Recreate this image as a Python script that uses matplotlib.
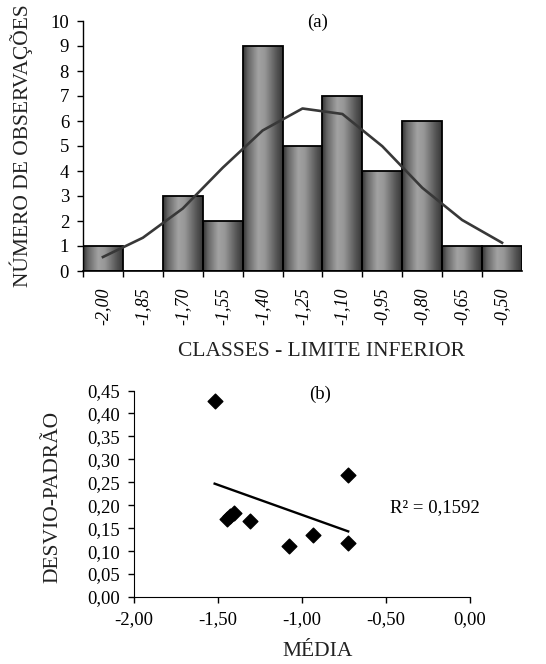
"""
Histogram of class counts with fitted normal curve (a) and
standard deviation vs. mean scatter with linear trend (b).
"""

import matplotlib.pyplot as plt
import numpy as np
from matplotlib.colors import LinearSegmentedColormap
from matplotlib.ticker import FuncFormatter

# (a) histogram
class_labels = ["-2,00", "-1,85", "-1,70", "-1,55", "-1,40", "-1,25",
                "-1,10", "-0,95", "-0,80", "-0,65", "-0,50"]
counts = [1, 0, 3, 2, 9, 5, 7, 4, 6, 1, 1]
normal_curve = [0.56, 1.33, 2.5, 4.13, 5.62, 6.5, 6.28, 4.99, 3.33, 2.04, 1.13]

# (b) scatter
means = [-1.52, -1.444, -1.43, -1.404, -1.307, -1.076, -0.937, -0.725, -0.725]
std_devs = [0.428, 0.171, 0.176, 0.183, 0.165, 0.111, 0.136, 0.265, 0.118]
trend_x = [-1.52, -0.725]
trend_y = [0.247, 0.143]
r_squared = "0,1592"

W, H = 546, 664
FONT = "Liberation Serif"


def comma(fmt):
    return FuncFormatter(lambda v, _: format(v, fmt).replace(".", ","))


def main():
    plt.rcParams["font.family"] = FONT
    fig = plt.figure(figsize=(W / 100, H / 100), dpi=100)

    # ---- (a) ----
    ax = fig.add_axes([83 / W, 1 - 271 / H, (522 - 83) / W, 250 / H])
    shade = LinearSegmentedColormap.from_list(
        "bar",
        [(0, "#353535"), (0.12, "#666666"), (0.38, "#a2a2a2"),
         (0.55, "#979797"), (0.85, "#555555"), (1, "#383838")],
    )
    grad = np.linspace(0, 1, 64).reshape(1, -1)
    x = np.arange(len(counts))
    for xi, h in zip(x, counts):
        if h == 0:
            continue
        ax.imshow(grad, cmap=shade, aspect="auto", interpolation="bilinear",
                  extent=[xi - 0.5, xi + 0.5, 0, h], zorder=1)
    ax.bar(x, counts, width=1.0, facecolor="none", edgecolor="black",
           linewidth=1.3, zorder=2)
    ax.plot(x, normal_curve, color="#383838", linewidth=1.9, zorder=3)

    ax.set_xlim(-0.5, len(counts) - 0.5)
    ax.set_ylim(0, 10)
    ax.set_yticks(range(0, 11))
    ax.set_xticks(x)
    ax.set_xticklabels(class_labels, rotation=90, fontstyle="italic", fontsize=13)
    ax.set_xticks(x - 0.5, minor=True)
    ax.tick_params(axis="x", which="major", length=0, pad=12)
    ax.tick_params(axis="x", which="minor", length=4.5, width=1, direction="out")
    ax.tick_params(axis="y", length=4, width=1, pad=6, labelsize=13.5)
    for side in ("top", "right"):
        ax.spines[side].set_visible(False)
    ax.spines["left"].set_linewidth(1)
    ax.spines["bottom"].set_linewidth(1.2)

    fig.text(318 / W, 1 - 22 / H, "(a)", ha="center", va="center", fontsize=13.5)
    fig.text(21 / W, 1 - 146 / H, "NÚMERO DE OBSERVAÇÕES", rotation=90,
             ha="center", va="center", fontsize=15.5, color="#222222")
    fig.text(322 / W, 1 - 352 / H, "CLASSES - LIMITE INFERIOR",
             ha="center", va="center", fontsize=15.5, color="#222222")

    # ---- (b) ----
    bx = fig.add_axes([134 / W, 1 - 597 / H, (470 - 134) / W, (597 - 390.5) / H])
    bx.scatter(means, std_devs, marker="D", s=56, color="black", zorder=3)
    bx.plot(trend_x, trend_y, color="black", linewidth=1.7, zorder=2)
    bx.set_xlim(-2, 0)
    bx.set_ylim(0, 0.45)
    bx.set_xticks(np.arange(-2, 0.01, 0.5))
    bx.set_yticks(np.arange(0, 0.451, 0.05))
    bx.xaxis.set_major_formatter(comma(".2f"))
    bx.yaxis.set_major_formatter(comma(".2f"))
    bx.tick_params(length=4, width=1, pad=6, labelsize=13.5)
    for side in ("top", "right"):
        bx.spines[side].set_visible(False)

    bx.text(-0.475, 0.194, f"R² = {r_squared}", ha="left", va="center",
            fontsize=13.5)
    fig.text(320 / W, 1 - 394 / H, "(b)", ha="center", va="center", fontsize=13.5)
    fig.text(53 / W, 1 - 497 / H, "DESVIO-PADRÃO", rotation=90,
             ha="center", va="center", fontsize=15.5, color="#222222")
    fig.text(318 / W, 1 - 652 / H, "MÉDIA", ha="center", va="center",
             fontsize=15.5, color="#222222")

    fig.savefig("out.png", dpi=100)


if __name__ == "__main__":
    main()
